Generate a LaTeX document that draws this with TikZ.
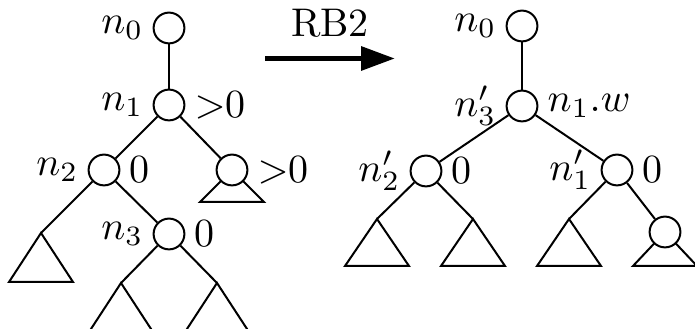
\documentclass[tikz,border=0pt]{standalone}
\usetikzlibrary{arrows.meta}
\begin{document}
\begin{tikzpicture}[x=0.25pt,y=-0.25pt,
  label distance=-1.2pt,
  vtx/.style={circle,draw,fill=white,line width=0.5pt,minimum size=7.7pt,inner sep=0pt},
  edge/.style={line width=0.5pt},
  tri/.style={line width=0.5pt,line join=miter},
  bigarrow/.style={line width=1.4pt,-{Triangle[length=8.5pt,width=5.8pt]}}]
\useasboundingbox (0,0) rectangle (695,329);
\clip (0,0) rectangle (695,329);
% triangle apexes, left tree
\coordinate (a1) at (41,233);
\coordinate (a2) at (121,283);
\coordinate (a3) at (217,283);
\coordinate (aR) at (232,170);
% triangle apexes, right tree
\coordinate (b1) at (377,219);
\coordinate (b2) at (473,219);
\coordinate (b3) at (569,219);
\coordinate (bR) at (665,232);
% triangles
\draw[tri] (a1) -- ++(-32,49) -- ++(64,0) -- cycle;
\draw[tri] (a2) -- ++(-32,49) -- ++(64,0) -- cycle;
\draw[tri] (a3) -- ++(-32,49) -- ++(64,0) -- cycle;
\draw[tri] (aR) -- ++(-32,32) -- ++(64,0) -- cycle;
\draw[tri] (b1) -- ++(-32,47) -- ++(64,0) -- cycle;
\draw[tri] (b2) -- ++(-32,47) -- ++(64,0) -- cycle;
\draw[tri] (b3) -- ++(-32,47) -- ++(64,0) -- cycle;
\draw[tri] (bR) -- ++(-32,34) -- ++(64,0) -- cycle;
% left tree nodes
\node[vtx,label={left:$n_0$}] (L0) at (169,28) {};
\node[vtx,label={left:$n_1$},label={right:$>$0}] (L1) at (169,105) {};
\node[vtx,label={left:$n_2$},label={right:0}] (L2) at (104,170) {};
\node[vtx,label={right:$>$0}] (LR) at (aR) {};
\node[vtx,label={left:$n_3$},label={right:0}] (L3) at (169,234) {};
% right tree nodes
\node[vtx,label={left:$n_0$}] (R0) at (522,26) {};
\node[vtx,label={left:$n'_3$},label={right:$n_1.w$}] (R3) at (522,106) {};
\node[vtx,label={left:$n'_2$},label={right:0}] (R2) at (426,171) {};
\node[vtx,label={left:$n'_1$},label={right:0}] (R1) at (617,170) {};
\node[vtx] (RR) at (bR) {};
% left edges
\draw[edge] (L0) -- (L1);
\draw[edge] (L1) -- (L2);
\draw[edge] (L1) -- (LR);
\draw[edge] (L2) -- (a1);
\draw[edge] (L2) -- (L3);
\draw[edge] (L3) -- (a2);
\draw[edge] (L3) -- (a3);
% right edges
\draw[edge] (R0) -- (R3);
\draw[edge] (R3) -- (R2);
\draw[edge] (R3) -- (R1);
\draw[edge] (R2) -- (b1);
\draw[edge] (R2) -- (b2);
\draw[edge] (R1) -- (b3);
\draw[edge] (R1) -- (RR);
% transformation arrow
\coordinate (as) at (265,58.5);
\coordinate (ae) at (395,58.5);
\draw[bigarrow] (as) -- (ae);
\node[anchor=base,inner sep=0pt] (rb) at (330,37) {RB2};
\end{tikzpicture}
\end{document}
